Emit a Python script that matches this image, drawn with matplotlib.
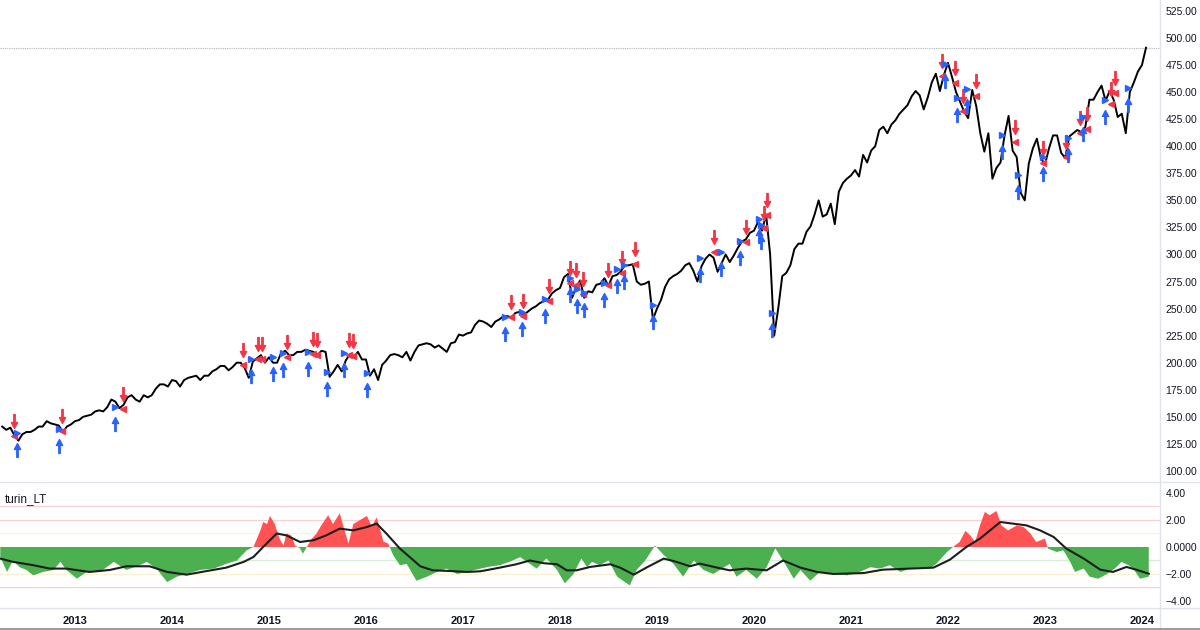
"""
SPY daily chart with turin_LT signals, TradingView style.
"""

import matplotlib

matplotlib.use("Agg")
import matplotlib.pyplot as plt
import numpy as np
from matplotlib.lines import Line2D
from matplotlib.path import Path
from matplotlib.transforms import offset_copy

plt.rcParams["font.family"] = ["Liberation Sans", "DejaVu Sans"]

# Price, semi-monthly readings (1st / 16th), starting 2012-04-01
spy_close = [
    # 2012 (Apr -> Dec)
    141, 138, 140, 133, 128, 134, 136, 136, 138, 141, 141, 146, 144, 143, 142, 136, 141, 143,
    # 2013
    146, 147, 150, 151, 152, 155, 156, 155, 159, 166, 164, 158,
    161, 168, 170, 166, 164, 170, 168, 170, 176, 180, 180, 178,
    # 2014
    184, 183, 178, 184, 186, 187, 188, 184, 188, 188, 192, 194,
    197, 197, 193, 196, 200, 200, 195, 186, 201, 204, 207, 200,
    # 2015
    205, 200, 200, 209, 211, 207, 207, 210, 210, 212, 211, 210,
    207, 211, 210, 187, 192, 198, 192, 202, 208, 205, 210, 203,
    # 2016
    203, 188, 194, 184, 198, 202, 207, 208, 207, 205, 210, 202,
    210, 216, 217, 218, 217, 214, 216, 213, 210, 218, 219, 226,
    # 2017
    225, 227, 228, 235, 239, 238, 236, 233, 238, 240, 243, 243,
    242, 246, 247, 244, 247, 250, 252, 255, 257, 258, 264, 267,
    # 2018
    269, 279, 282, 260, 270, 276, 260, 266, 265, 272, 273, 278,
    271, 280, 281, 284, 290, 290, 291, 275, 272, 273, 275, 240,
    # 2019
    250, 258, 270, 277, 280, 282, 285, 290, 292, 285, 275, 289,
    296, 300, 297, 284, 292, 300, 293, 299, 306, 312, 314, 320,
    # 2020
    322, 330, 322, 337, 300, 225, 250, 280, 283, 290, 305, 310,
    310, 321, 326, 337, 350, 335, 337, 347, 328, 358, 366, 370,
    # 2021
    373, 378, 372, 392, 385, 396, 400, 415, 418, 412, 420, 424,
    430, 434, 438, 446, 451, 447, 434, 445, 459, 467, 451, 466,
    # 2022
    477, 464, 450, 441, 432, 426, 452, 437, 412, 395, 412, 370,
    380, 385, 410, 428, 396, 390, 357, 350, 384, 398, 407, 389,
    # 2023
    383, 398, 410, 410, 394, 389, 409, 412, 415, 413, 418, 443,
    443, 450, 456, 442, 451, 443, 427, 430, 412, 450, 459, 469,
    # 2024
    475, 491,
]
price_start = 2012.25  # decimal year of first reading
last_price = 491

# Signals (decimal year, price)
sell_t = [2012.37, 2012.87, 2013.49, 2014.73, 2014.89, 2014.93, 2015.19, 2015.45, 2015.50,
          2015.83, 2015.87, 2017.49, 2017.62, 2017.89, 2018.10, 2018.17, 2018.24, 2018.50,
          2018.64, 2018.77, 2019.59, 2019.92, 2020.10, 2020.13, 2021.94, 2022.07, 2022.16,
          2022.29, 2022.69, 2022.98, 2023.22, 2023.36, 2023.43, 2023.68, 2023.72]
sell_p = [132.3, 137.0, 157.3, 197.9, 203.5, 203.5, 205.3, 208.1, 207.2,
          207.2, 206.2, 242.3, 243.2, 257.0, 273.7, 271.8, 263.5, 271.8,
          282.9, 291.2, 302.3, 311.5, 324.5, 336.5, 464.9, 458.4, 432.6,
          446.4, 403.9, 384.5, 390.1, 412.2, 415.9, 439.0, 449.2]
buy_t = [2012.40, 2012.84, 2013.41, 2014.81, 2015.04, 2015.14, 2015.40, 2015.60, 2015.77,
         2016.01, 2017.43, 2017.61, 2017.85, 2018.10, 2018.18, 2018.25, 2018.45, 2018.59,
         2018.66, 2018.96, 2019.44, 2019.66, 2019.86, 2020.05, 2020.07, 2020.19, 2021.97,
         2022.09, 2022.20, 2022.56, 2022.72, 2022.98, 2023.24, 2023.39, 2023.62, 2023.86]
buy_p = [135.1, 138.8, 159.1, 203.5, 205.3, 209.0, 209.9, 191.5, 209.0,
         190.5, 242.3, 246.9, 258.9, 278.3, 268.1, 264.0, 273.7, 286.6,
         290.3, 253.3, 296.8, 302.3, 312.5, 332.8, 327.3, 246.0, 476.0,
         444.6, 452.9, 410.4, 373.4, 390.1, 407.6, 427.0, 442.7, 453.8]

# turin_LT oscillator (decimal year, value)
osc_t = [2012.23, 2012.30, 2012.36, 2012.43, 2012.50, 2012.57, 2012.67, 2012.78, 2012.85, 2012.91,
         2013.02, 2013.12, 2013.26, 2013.40, 2013.53, 2013.67, 2013.74, 2013.84, 2013.95, 2014.05,
         2014.15, 2014.29, 2014.43, 2014.56, 2014.67, 2014.77, 2014.84, 2014.91, 2014.94, 2014.98,
         2015.01, 2015.06, 2015.11, 2015.15, 2015.18, 2015.23, 2015.27, 2015.32, 2015.35, 2015.39,
         2015.44, 2015.49, 2015.54, 2015.61, 2015.66, 2015.73, 2015.78, 2015.82, 2015.87, 2015.94,
         2016.01, 2016.06, 2016.11, 2016.18, 2016.23, 2016.28, 2016.35, 2016.42, 2016.52, 2016.63,
         2016.73, 2016.83, 2016.94, 2017.04, 2017.18, 2017.28, 2017.38, 2017.48, 2017.59, 2017.66,
         2017.76, 2017.86, 2017.97, 2018.05, 2018.14, 2018.22, 2018.28, 2018.33, 2018.41, 2018.50,
         2018.59, 2018.72, 2018.79, 2018.88, 2018.98, 2019.07, 2019.17, 2019.27, 2019.38, 2019.48,
         2019.58, 2019.75, 2019.82, 2019.92, 2020.03, 2020.13, 2020.22, 2020.30, 2020.41, 2020.48,
         2020.58, 2020.68, 2020.82, 2020.96, 2021.09, 2021.20, 2021.30, 2021.40, 2021.51, 2021.61,
         2021.71, 2021.81, 2021.88, 2021.99, 2022.07, 2022.12, 2022.18, 2022.23, 2022.28, 2022.33,
         2022.38, 2022.43, 2022.50, 2022.55, 2022.62, 2022.71, 2022.78, 2022.85, 2022.91, 2023.00,
         2023.03, 2023.12, 2023.19, 2023.26, 2023.31, 2023.40, 2023.46, 2023.55, 2023.64, 2023.72,
         2023.79, 2023.86, 2023.91, 2023.98, 2024.07]
osc_v = [-0.74, -1.85, -1.0, -1.5, -1.7, -2.1, -1.85, -1.7, -1.1, -1.7,
         -2.35, -1.85, -1.85, -1.1, -1.7, -1.35, -1.1, -1.6, -2.6, -2.2,
         -2.0, -1.7, -1.6, -1.25, -1.0, -0.25, 0.0, 1.2, 1.85, 1.7,
         2.3, 1.7, 0.6, 0.1, 1.0, 0.85, 0.1, -0.1, -0.5, 0.0,
         0.6, 1.0, 1.6, 2.35, 1.7, 2.5, 1.2, 0.25, 1.7, 2.0,
         2.3, 1.5, 2.2, 0.4, 0.25, -0.6, -1.35, -1.25, -2.5, -2.2,
         -1.85, -1.6, -2.0, -1.85, -1.6, -1.45, -1.35, -1.1, -0.75, -1.1,
         -1.6, -0.85, -1.7, -2.7, -2.0, -0.85, -1.5, -1.1, -1.35, -1.0,
         -2.2, -2.85, -1.7, -1.0, 0.1, -0.6, -1.25, -2.2, -1.0, -1.7,
         -2.0, -1.25, -2.2, -1.7, -2.35, -1.5, -0.1, -1.0, -2.35, -1.7,
         -2.5, -1.85, -2.0, -2.1, -1.85, -1.5, -1.6, -1.35, -1.85, -1.6,
         -1.5, -1.6, -1.25, -0.37, 0.1, 0.37, 1.2, 0.86, 0.37, 1.6,
         2.6, 2.35, 2.67, 1.6, 1.23, 1.6, 1.48, 1.0, 0.37, 0.62,
         -0.12, -0.37, -0.25, -1.1, -1.85, -1.6, -2.2, -2.35, -2.0, -1.6,
         -1.1, -1.35, -1.6, -2.35, -2.2]

# Smoothed signal line
sig_t = [2012.23, 2012.36, 2012.57, 2012.74, 2012.91, 2013.15, 2013.36, 2013.53, 2013.77, 2013.95,
         2014.15, 2014.36, 2014.56, 2014.74, 2014.84, 2014.94, 2015.08, 2015.18, 2015.32, 2015.46,
         2015.59, 2015.73, 2015.87, 2016.01, 2016.11, 2016.21, 2016.35, 2016.45, 2016.56, 2016.69,
         2016.87, 2017.04, 2017.18, 2017.38, 2017.55, 2017.69, 2017.83, 2017.97, 2018.07, 2018.17,
         2018.31, 2018.52, 2018.62, 2018.76, 2018.89, 2019.07, 2019.20, 2019.34, 2019.44, 2019.62,
         2019.75, 2019.92, 2020.13, 2020.30, 2020.48, 2020.65, 2020.82, 2021.13, 2021.33, 2021.61,
         2021.85, 2022.02, 2022.19, 2022.33, 2022.54, 2022.67, 2022.81, 2022.95, 2023.09, 2023.22,
         2023.40, 2023.57, 2023.70, 2023.84, 2023.94, 2024.07]
sig_v = [-0.86, -1.1, -1.35, -1.6, -1.6, -1.85, -1.7, -1.43, -1.43, -1.85,
         -2.05, -1.78, -1.53, -1.1, -0.74, 0.0, 1.0, 0.86, 0.37, 0.5,
         0.86, 1.36, 1.23, 1.48, 1.73, 1.0, -0.12, -0.74, -1.43, -1.73,
         -1.78, -1.85, -1.8, -1.53, -1.28, -1.0, -1.2, -1.28, -1.73, -1.73,
         -1.48, -1.28, -1.53, -2.05, -1.53, -0.86, -1.1, -1.43, -1.23, -1.53,
         -1.73, -1.6, -1.73, -1.0, -1.53, -1.85, -2.0, -1.93, -1.68, -1.6,
         -1.53, -0.94, 0.0, 0.62, 1.85, 1.73, 1.6, 1.23, 0.74, -0.12,
         -0.86, -1.68, -1.85, -1.48, -1.68, -1.98]

years = list(range(2013, 2025))
price_ticks = list(range(100, 526, 25))
osc_ticks = [4, 2, 0, -2, -4]
osc_tick_labels = ["4.00", "2.00", "0.0000", "\u22122.00", "\u22124.00"]
osc_levels = [3, 2, 1, -1, -2, -3]
osc_level_colors = ["#f9d0d3", "#f9d0d3", "#fbf1cf", "#d6eed7", "#fbf1cf", "#f9d0d3"]

RED = "#f23645"
BLUE = "#2962ff"
TEXT = "#131722"
SEP = "#e0e3eb"

# Arrow markers (shaft + head)
_down = [(-0.1, 1.0), (0.1, 1.0), (0.1, -0.15), (0.45, -0.15), (0.0, -1.0),
         (-0.45, -0.15), (-0.1, -0.15), (-0.1, 1.0)]
ARROW_DOWN = Path(_down, closed=True)
ARROW_UP = Path([(x, -y) for x, y in _down], closed=True)

fig = plt.figure(figsize=(12, 6.3), dpi=100)
W, H = 1200, 630
ax = fig.add_axes([0, 1 - 482 / H, 1160 / W, 482 / H])
ax2 = fig.add_axes([0, 1 - 608 / H, 1160 / W, 125 / H], sharex=ax)

price_t = price_start + np.arange(len(spy_close)) / 24.0
ax.plot(price_t, spy_close, color="black", lw=1.4, zorder=3)
ax.axhline(last_price, color="#b2b5be", lw=0.8, ls=(0, (1, 1)), zorder=1)

up_off = offset_copy(ax.transData, fig=fig, y=11, units="points")
dn_off = offset_copy(ax.transData, fig=fig, y=-12, units="points")
ax.plot(sell_t, sell_p, ls="none", marker="<", ms=5, color=RED, zorder=4)
ax.plot(sell_t, sell_p, ls="none", marker=ARROW_DOWN, ms=10, color=RED, zorder=4,
        transform=up_off)
ax.plot(buy_t, buy_p, ls="none", marker=">", ms=5, color=BLUE, zorder=4)
ax.plot(buy_t, buy_p, ls="none", marker=ARROW_UP, ms=10, color=BLUE, zorder=4,
        transform=dn_off)

ax.set_xlim(2012.227, 2024.186)
ax.set_ylim(89.8, 535.1)
ax.yaxis.tick_right()
ax.set_yticks(price_ticks)
ax.set_yticklabels([f"{v:.2f}" for v in price_ticks])
ax.tick_params(axis="y", length=0, pad=4, labelsize=7.5, labelcolor=TEXT)
ax.tick_params(axis="x", bottom=False, labelbottom=False)
for s in ax.spines.values():
    s.set_visible(False)

# Lower panel: oscillator
for lvl, c in zip(osc_levels, osc_level_colors):
    ax2.axhline(lvl, color=c, lw=0.9, zorder=0)
ov = np.array(osc_v)
ax2.fill_between(osc_t, ov, 0, where=ov >= 0, interpolate=True, color="#ff5252", lw=0, zorder=1)
ax2.fill_between(osc_t, ov, 0, where=ov <= 0, interpolate=True, color="#4caf50", lw=0, zorder=1)
ax2.plot(sig_t, sig_v, color="#1e1e1e", lw=1.5, zorder=2)
ax2.set_ylim(-4.52, 4.74)
ax2.yaxis.tick_right()
ax2.set_yticks(osc_ticks)
ax2.set_yticklabels(osc_tick_labels)
ax2.tick_params(axis="y", length=0, pad=4, labelsize=7.5, labelcolor=TEXT)
ax2.set_xticks(years)
ax2.set_xticklabels([str(y) for y in years])
ax2.tick_params(axis="x", length=0, pad=6, labelsize=8, labelcolor=TEXT)
for lab in ax2.get_xticklabels():
    lab.set_fontweight("bold")
for s in ax2.spines.values():
    s.set_visible(False)
ax2.text(0.004, 0.92, "turin_LT", transform=ax2.transAxes, fontsize=8.5, color=TEXT,
         va="top", ha="left")

# Pane separators
for yy in (482, 608):
    fig.add_artist(Line2D([0, 1], [1 - yy / H] * 2, color=SEP, lw=1))
fig.add_artist(Line2D([1160 / W] * 2, [0, 1], color=SEP, lw=1))
fig.add_artist(Line2D([0, 1], [1 - 629 / H] * 2, color="#8a8a8a", lw=1.2))

fig.savefig("out.png", dpi=100)
plt.close(fig)
